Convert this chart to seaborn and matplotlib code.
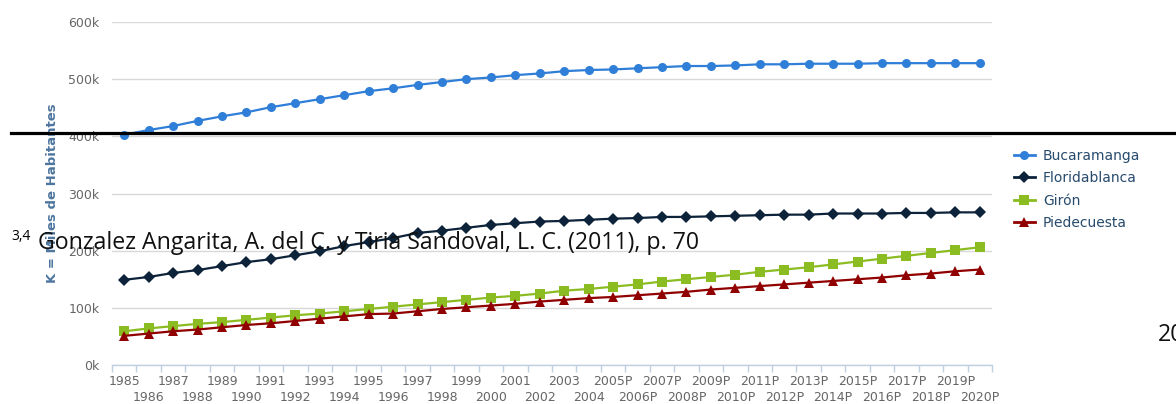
import numpy as np
import pandas as pd
import matplotlib.pyplot as plt
from matplotlib.lines import Line2D
import seaborn as sns

years = [str(y) for y in range(1985, 2005)] + [f"{y}P" for y in range(2005, 2021)]
bucaramanga = [403, 411, 418, 427, 435, 442, 451, 458, 465, 472, 479, 484,
               490, 495, 500, 503, 507, 510, 514, 516, 517, 519, 521, 523,
               523, 524, 526, 526, 527, 527, 527, 528, 528, 528, 528, 528]
floridablanca = [149, 154, 161, 166, 173, 180, 185, 192, 199, 208, 215, 222,
                 231, 235, 240, 245, 248, 251, 252, 254, 256, 257, 259, 259,
                 260, 261, 262, 263, 263, 265, 265, 265, 266, 266, 267, 267]
giron = [59, 64, 68, 72, 75, 79, 83, 87, 90, 94, 98, 102,
         106, 110, 114, 118, 121, 125, 130, 133, 137, 141, 146, 150,
         154, 158, 163, 167, 171, 176, 181, 186, 191, 196, 201, 206]
piedecuesta = [51, 55, 59, 62, 66, 70, 73, 77, 81, 85, 89, 90,
               94, 98, 101, 104, 107, 111, 114, 117, 119, 122, 125, 128,
               132, 135, 138, 141, 144, 147, 150, 153, 157, 160, 164, 167]

cities = ['Bucaramanga', 'Floridablanca', 'Girón', 'Piedecuesta']
colors = {'Bucaramanga': '#2f7ed8', 'Floridablanca': '#0d233a',
          'Girón': '#8bbc21', 'Piedecuesta': '#910000'}
markers = {'Bucaramanga': 'o', 'Floridablanca': 'D',
           'Girón': 's', 'Piedecuesta': '^'}

series = [bucaramanga, floridablanca, giron, piedecuesta]
df = pd.concat([
    pd.DataFrame({'pos': range(len(years)), 'value': np.array(v) * 1000, 'city': c})
    for c, v in zip(cities, series)
], ignore_index=True)

fig = plt.figure(figsize=(11.76, 4.04), dpi=100)
ax = fig.add_axes([112 / 1176, 1 - 365 / 404, 880 / 1176, 343 / 404])

sns.lineplot(data=df, x='pos', y='value', hue='city', style='city',
             palette=colors, markers=markers, dashes=False, linewidth=1.6,
             markersize=6.5, markeredgewidth=0, ax=ax, legend=False)

ax.set_xlim(-0.5, len(years) - 0.5)
ax.set_ylim(0, 600000)
ax.set_yticks(range(0, 600001, 100000))
ax.set_yticklabels([f"{v // 1000}k" for v in range(0, 600001, 100000)])
ax.grid(axis='y', color='#d8d8d8', linewidth=1)
ax.grid(axis='x', visible=False)
ax.set_axisbelow(True)
for s in ['left', 'right', 'top']:
    ax.spines[s].set_visible(False)
ax.spines['bottom'].set_color('#c0d0e0')
ax.spines['bottom'].set_linewidth(1)

ax.set_xticks(range(len(years)))
ax.set_xticklabels(years)
ax.set_xticks(np.arange(-0.5, len(years)), minor=True)
ax.tick_params(axis='x', which='major', length=0, labelsize=9, labelcolor='#666666')
ax.tick_params(axis='x', which='minor', length=5, color='#c0d0e0', width=1)
ax.tick_params(axis='y', length=0, pad=9, labelsize=9, labelcolor='#666666')
for i, t in enumerate(ax.xaxis.get_major_ticks()):
    t.set_pad(7.5 if i % 2 == 0 else 19)

ax.set_xlabel('')
ax.set_ylabel('K = Miles de Habitantes', color='#4d759e', fontweight='bold', fontsize=9.5)
ax.yaxis.set_label_coords(-0.060, 0.5)

handles = [Line2D([], [], color=colors[c], marker=markers[c], linewidth=2,
                  markersize=6.5, markeredgewidth=0) for c in cities]
ax.legend(handles, cities, loc='upper left', bbox_to_anchor=(1007 / 1176, 1 - 142 / 404),
          bbox_transform=fig.transFigure, frameon=False, fontsize=10,
          handlelength=1.5, handletextpad=0.6, labelspacing=0.6,
          labelcolor='#274b6d', borderpad=0)

# overlay from the source document
fig.add_artist(Line2D([11 / 1176, 1], [1 - 133 / 404, 1 - 133 / 404],
                      color='black', linewidth=2.3, transform=fig.transFigure))
fig.text(11 / 1176, 1 - 240 / 404, '3,4', fontsize=10, family='Open Sans')
fig.text(38 / 1176, 1 - 249 / 404,
         'Gonzalez Angarita, A. del C. y Tiria Sandoval, L. C. (2011), p. 70',
         fontsize=16.7, family='Open Sans', color='#111111')
fig.text(1158 / 1176, 1 - 341 / 404, '20', fontsize=16.7, family='Open Sans', color='#111111')

fig.savefig('out.png', dpi=100)
